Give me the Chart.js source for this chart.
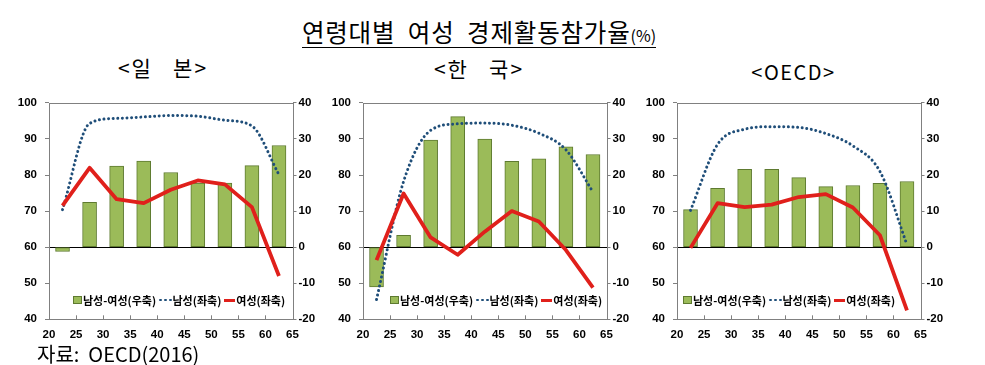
<!DOCTYPE html>
<html>
<head>
<meta charset="utf-8">
<script src="https://cdn.jsdelivr.net/npm/chart.js@4.4.1/dist/chart.umd.min.js"></script>
<style>
  html, body { margin:0; padding:0; background:#fff; }
  body { width:985px; height:365px; position:relative; overflow:hidden; font-family:"Noto Sans CJK KR", sans-serif; color:#000; }
  canvas { position:absolute; top:88px; }
  .title { position:absolute; left:0; width:958px; top:20px; text-align:center; font-size:24.5px; line-height:24px; white-space:pre; letter-spacing:0.8px; }
  .title span.u { display:inline-block; border-bottom:1.5px solid #000; line-height:24px; }
  .title small { font-size:16px; letter-spacing:0; }
  .ptitle { position:absolute; font-size:21px; line-height:21px; white-space:pre; text-align:center; width:200px; letter-spacing:2px; }
  .legend { position:absolute; top:293px; height:14px; display:flex; align-items:center; font-size:11px; font-weight:bold; line-height:14px; white-space:pre; }
  .legend .box { width:7px; height:6px; background:#9BBB59; border:1px solid #5E7A30; margin-right:1px; }
  .legend .dots { display:flex; gap:2px; margin:0 1px 0 3px; }
  .legend .dots i { display:block; width:2.8px; height:2.8px; border-radius:50%; background:#1F4E79; }
  .legend .rline { width:11px; height:3px; background:#E0201B; margin:0 1px 0 3px; }
  .source { position:absolute; left:37px; top:344px; font-size:20px; line-height:20px; white-space:pre; }
</style>
</head>
<body>
<div class="title"><span class="u">연령대별  여성  경제활동참가율<small>(%)</small></span></div>
<div class="ptitle" style="left:63px;top:57px;">&lt;일   본&gt;</div>
<div class="ptitle" style="left:379px;top:58px;">&lt;한   국&gt;</div>
<div class="ptitle" style="left:693.5px;top:62px;font-size:20px;line-height:20px;letter-spacing:1.5px;">&lt;OECD&gt;</div>

<canvas id="c1" width="329" height="262" style="left:0px"></canvas>
<canvas id="c2" width="329" height="262" style="left:313.7px"></canvas>
<canvas id="c3" width="329" height="262" style="left:628.3px"></canvas>

<div class="legend" style="left:73px;"><span class="box"></span>남성-여성(우축)<span class="dots"><i></i><i></i><i></i></span>남성(좌축)<span class="rline"></span>여성(좌축)</div>
<div class="legend" style="left:390px;"><span class="box"></span>남성-여성(우축)<span class="dots"><i></i><i></i><i></i></span>남성(좌축)<span class="rline"></span>여성(좌축)</div>
<div class="legend" style="left:683px;"><span class="box"></span>남성-여성(우축)<span class="dots"><i></i><i></i><i></i></span>남성(좌축)<span class="rline"></span>여성(좌축)</div>

<div class="source">자료:  OECD(2016)</div>

<script>
// ---- data ----
const ages = [22.5, 27.5, 32.5, 37.5, 42.5, 47.5, 52.5, 57.5, 62.5];

const japanMale   = [70.4, 94.3, 95.7, 96.1, 96.5, 96.3, 95.2, 93.6, 80.1];
const japanFemale = [71.5, 82.0, 73.3, 72.2, 75.9, 78.5, 77.4, 71.1, 52.0];
const japanGap    = [-1.2, 12.4, 22.5, 23.9, 20.7, 17.8, 17.8, 22.6, 28.2];

const koreaMale   = [45.5, 78.2, 92.4, 94.2, 94.4, 93.8, 91.6, 87.0, 75.3];
const koreaFemale = [56.4, 74.9, 62.7, 57.9, 64.3, 70.0, 67.1, 59.2, 48.8];
const koreaGap    = [-11.0, 3.3, 29.7, 36.2, 30.0, 23.8, 24.5, 27.8, 25.7];

const oecdMale    = [70.2, 88.5, 92.7, 93.4, 93.2, 91.5, 88.1, 81.0, 60.7];
const oecdFemale  = [59.8, 72.2, 71.1, 71.8, 73.9, 74.7, 71.0, 63.3, 42.5];
const oecdGap     = [10.4, 16.3, 21.6, 21.6, 19.3, 16.8, 17.1, 17.7, 18.2];

const xTicks     = [20, 25, 30, 35, 40, 45, 50, 55, 60, 65];
const leftTicks  = [40, 50, 60, 70, 80, 90, 100];
const rightTicks = [-20, -10, 0, 10, 20, 30, 40];

const seriesNames = ['남성-여성(우축)', '남성(좌축)', '여성(좌축)'];

// ---- drawing ----
const tickFont = { family: "'Liberation Sans', Arial, sans-serif", size: 11.5, weight: 'bold' };

const framePlugin = {
  id: 'frame',
  beforeDatasetsDraw(chart) {
    const { ctx, chartArea: a, scales } = chart;
    ctx.save();
    ctx.strokeStyle = '#808080';
    ctx.lineWidth = 1;
    ctx.strokeRect(Math.round(a.left) + 0.5, Math.round(a.top) + 0.5,
                   Math.round(a.right) - Math.round(a.left), Math.round(a.bottom) - Math.round(a.top));
    ctx.beginPath();
    scales.x.ticks.forEach(t => {
      const px = Math.round(scales.x.getPixelForValue(t.value)) + 0.5;
      ctx.moveTo(px, a.bottom);
      ctx.lineTo(px, a.bottom - 4);
    });
    ctx.stroke();
    ctx.restore();
  }
};

function pts(xs, ys) { return xs.map((x, i) => ({ x: x, y: ys[i] })); }

function makePanel(id, male, female, gap) {
  new Chart(document.getElementById(id), {
    type: 'bar',
    data: {
      datasets: [
        {
          type: 'line', label: seriesNames[2], data: pts(ages, female), yAxisID: 'y',
          borderColor: '#E0201B', borderWidth: 3.8, pointRadius: 0, tension: 0, order: 1,
          borderJoinStyle: 'round'
        },
        {
          type: 'line', label: seriesNames[1], data: pts(ages, male), yAxisID: 'y',
          borderColor: '#1F4E79', borderWidth: 3, borderDash: [0.01, 4.6], borderCapStyle: 'round',
          pointRadius: 0, cubicInterpolationMode: 'monotone', order: 2
        },
        {
          type: 'bar', label: seriesNames[0], data: pts(ages, gap), yAxisID: 'y1',
          backgroundColor: '#9BBB59', borderColor: '#5E7A30', borderWidth: 1, borderSkipped: false,
          barThickness: 14, order: 3
        }
      ]
    },
    options: {
      responsive: false,
      animation: false,
      events: [],
      layout: { padding: { top: 8.7, left: 0, right: 0, bottom: 0 } },
      plugins: { legend: { display: false }, tooltip: { enabled: false } },
      scales: {
        x: {
          type: 'linear', min: 20, max: 65, offset: false,
          afterBuildTicks: s => { s.ticks = xTicks.map(v => ({ value: v })); },
          afterFit: s => { s.height = 30.7; },
          grid: { display: false, offset: false, drawTicks: false },
          border: { display: false },
          ticks: { font: tickFont, color: '#000', padding: 9, maxRotation: 0, autoSkip: false }
        },
        y: {
          type: 'linear', position: 'left', min: 40, max: 100,
          afterBuildTicks: s => { s.ticks = leftTicks.map(v => ({ value: v })); },
          afterFit: s => { s.width = 49; },
          grid: { drawOnChartArea: false, drawTicks: true, tickLength: 4, tickColor: '#808080' },
          border: { display: false },
          ticks: { font: tickFont, color: '#000', padding: 8 }
        },
        y1: {
          type: 'linear', position: 'right', min: -20, max: 40,
          afterBuildTicks: s => { s.ticks = rightTicks.map(v => ({ value: v })); },
          afterFit: s => { s.width = 36.5; },
          grid: {
            drawOnChartArea: true, drawTicks: true, tickLength: 4, tickColor: '#808080',
            color: c => (c.tick && c.tick.value === 0) ? '#000000' : 'rgba(0,0,0,0)', lineWidth: 1
          },
          border: { display: false },
          ticks: { font: tickFont, color: '#000', padding: 2 }
        }
      }
    },
    plugins: [framePlugin]
  });
}

makePanel('c1', japanMale, japanFemale, japanGap);
makePanel('c2', koreaMale, koreaFemale, koreaGap);
makePanel('c3', oecdMale, oecdFemale, oecdGap);
</script>
</body>
</html>
